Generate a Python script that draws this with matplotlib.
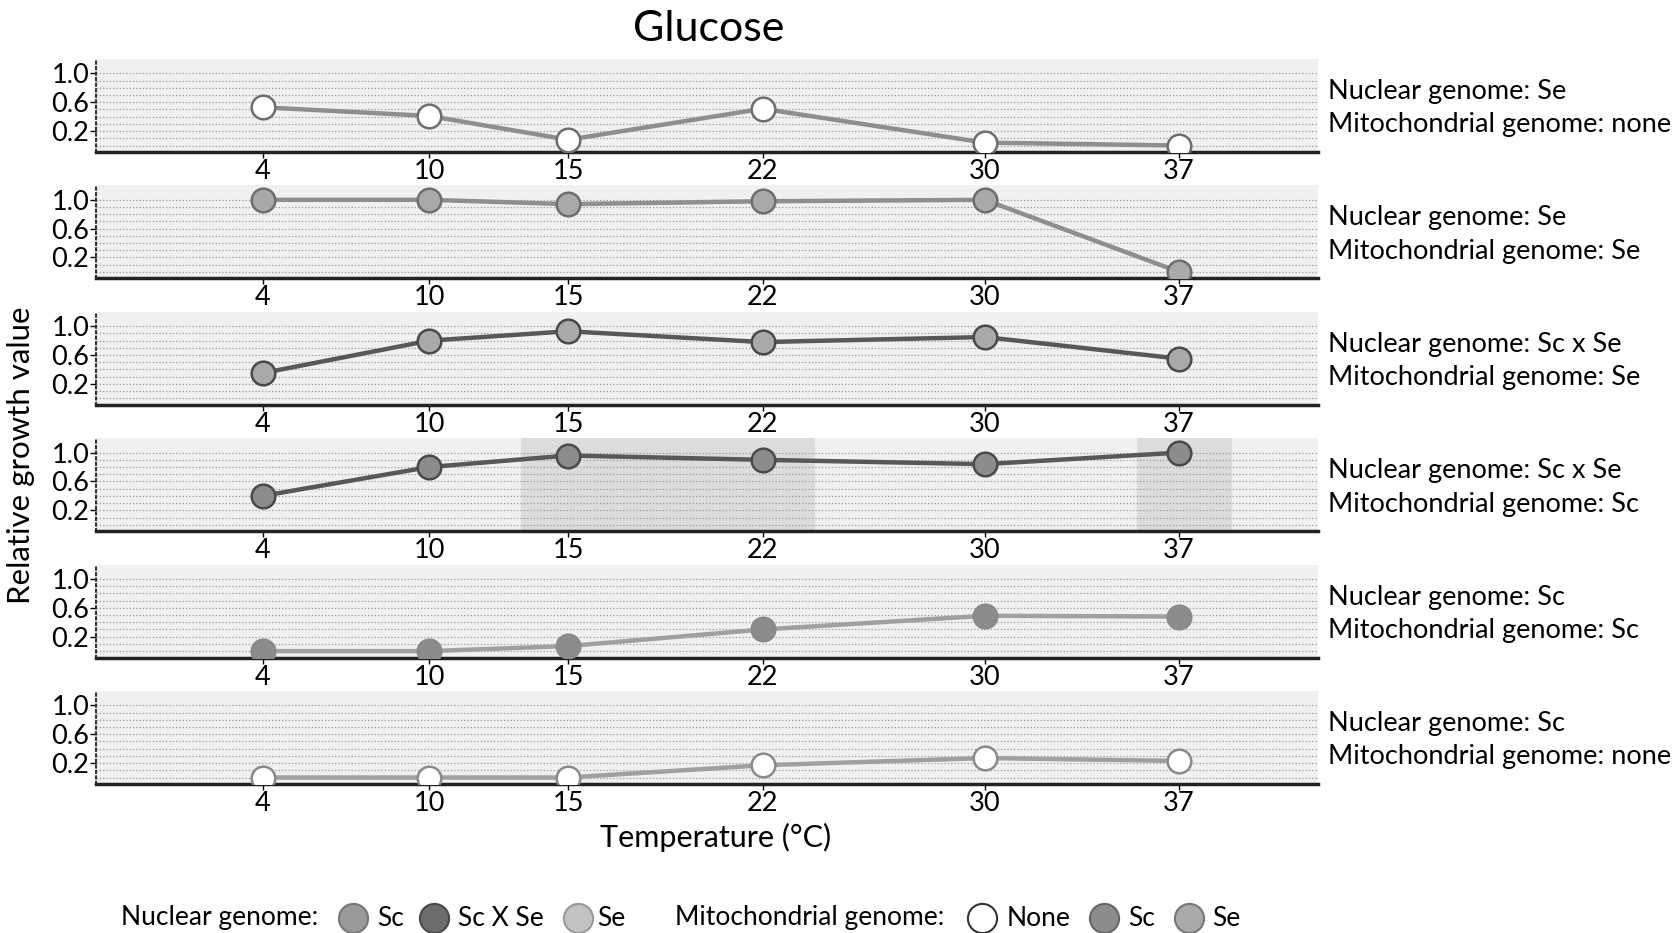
import matplotlib.pyplot as plt
from matplotlib.lines import Line2D

plt.rcParams['font.family'] = ['Lato', 'DejaVu Sans']

temps = [4, 10, 15, 22, 30, 37]

nuclear = ['Se', 'Se', 'Sc x Se', 'Sc x Se', 'Sc', 'Sc']
mito = ['none', 'Se', 'Se', 'Sc', 'Sc', 'none']

growth_se_none = [0.53, 0.41, 0.08, 0.51, 0.04, 0.0]
growth_se_se = [1.0, 1.0, 0.94, 0.98, 1.0, 0.0]
growth_scse_se = [0.35, 0.8, 0.93, 0.78, 0.85, 0.55]
growth_scse_sc = [0.40, 0.8, 0.96, 0.90, 0.84, 1.0]
growth_sc_sc = [0.0, 0.0, 0.07, 0.30, 0.49, 0.48]
growth_sc_none = [0.0, 0.0, 0.0, 0.17, 0.27, 0.23]
growth = [growth_se_none, growth_se_se, growth_scse_se,
          growth_scse_sc, growth_sc_sc, growth_sc_none]

# shaded temperature windows in the Sc x Se / Sc panel
highlight_spans = [(13.3, 23.9), (35.5, 38.9)]

line_col = {'Se': '#8e8e8e', 'Sc x Se': '#585858', 'Sc': '#a0a0a0'}
edge_col = {'Se': '#6e6e6e', 'Sc x Se': '#4a4a4a', 'Sc': '#8a8a8a'}
fill_col = {'none': 'white', 'Se': '#a9a9a9', 'Sc': '#8c8c8c'}

FS = 19.5

fig = plt.figure(figsize=(16.8, 9.33), dpi=100)
W, H = 1680.0, 933.0
left = 96 / W
width = (1318 - 96) / W
ph = 93 / H

axes = []
for i in range(6):
    bottom_px = 152 + i * 126.4
    ax = fig.add_axes([left, 1 - bottom_px / H, width, ph])
    axes.append(ax)
    ax.set_facecolor('#f0f0f0')
    ax.set_xlim(-2, 42)
    ax.set_ylim(-0.09, 1.2)
    ax.set_yticks([0.2, 0.6, 1.0])
    ax.set_yticklabels(['0.2', '0.6', '1.0'])
    ax.set_yticks([0.0, 0.1, 0.3, 0.4, 0.5, 0.7, 0.8, 0.9], minor=True)
    ax.set_xticks(temps)
    ax.set_xticklabels([str(t) for t in temps])
    ax.tick_params(axis='y', which='major', labelsize=FS, length=4, width=1, pad=1)
    ax.tick_params(axis='y', which='minor', length=0)
    ax.tick_params(axis='x', labelsize=FS, length=4, width=1, pad=1)
    ax.grid(True, axis='y', which='both', linestyle=':', color='#999999', lw=0.9)
    ax.set_axisbelow(True)
    for s in ['top', 'right']:
        ax.spines[s].set_visible(False)
    ax.spines['left'].set_linestyle(':')
    ax.spines['left'].set_linewidth(1.5)
    ax.spines['left'].set_color('#333333')
    ax.spines['bottom'].set_linewidth(2.5)
    ax.spines['bottom'].set_color('#222222')

    n, m = nuclear[i], mito[i]
    ax.plot(temps, growth[i], '-o', color=line_col[n], lw=3.2,
            markersize=17, markerfacecolor=fill_col[m],
            markeredgecolor=edge_col[n], markeredgewidth=1.8, zorder=3)
    ax.text(1.008, 0.47, 'Nuclear genome: ' + n + '\nMitochondrial genome: ' + m,
            transform=ax.transAxes, ha='left', va='center', fontsize=FS,
            linespacing=1.42)

for a, b in highlight_spans:
    axes[3].axvspan(a, b, color='#c4c4c4', alpha=0.45, lw=0, zorder=0.5)

fig.text(0.422, 0.969, 'Glucose', ha='center', va='center', fontsize=31)
fig.text(0.0127, 0.512, 'Relative growth value', rotation=90, ha='center',
         va='center', fontsize=22.5)
fig.text(0.426, 0.102, 'Temperature (°C)', ha='center', va='center', fontsize=22)

# legend row along the bottom
ly = 1 - 918 / H
legend_items = [
    ('text', 121, 'Nuclear genome:'),
    ('mark', 353, '#9a9a9a', '#777777'),
    ('text', 377, 'Sc'),
    ('mark', 434, '#6c6c6c', '#4a4a4a'),
    ('text', 458, 'Sc X Se'),
    ('mark', 578, '#c2c2c2', '#999999'),
    ('text', 597, 'Se'),
    ('text', 675, 'Mitochondrial genome:'),
    ('mark', 982, 'white', '#333333'),
    ('text', 1007, 'None'),
    ('mark', 1104, '#8c8c8c', '#666666'),
    ('text', 1128, 'Sc'),
    ('mark', 1189, '#a9a9a9', '#777777'),
    ('text', 1212, 'Se'),
]
for item in legend_items:
    if item[0] == 'text':
        fig.text(item[1] / W, ly, item[2], ha='left', va='center', fontsize=19)
    else:
        fig.add_artist(Line2D([item[1] / W], [ly], transform=fig.transFigure,
                              marker='o', markersize=21, linestyle='none',
                              markerfacecolor=item[2], markeredgecolor=item[3],
                              markeredgewidth=1.5))

fig.savefig('out.png', dpi=100)
